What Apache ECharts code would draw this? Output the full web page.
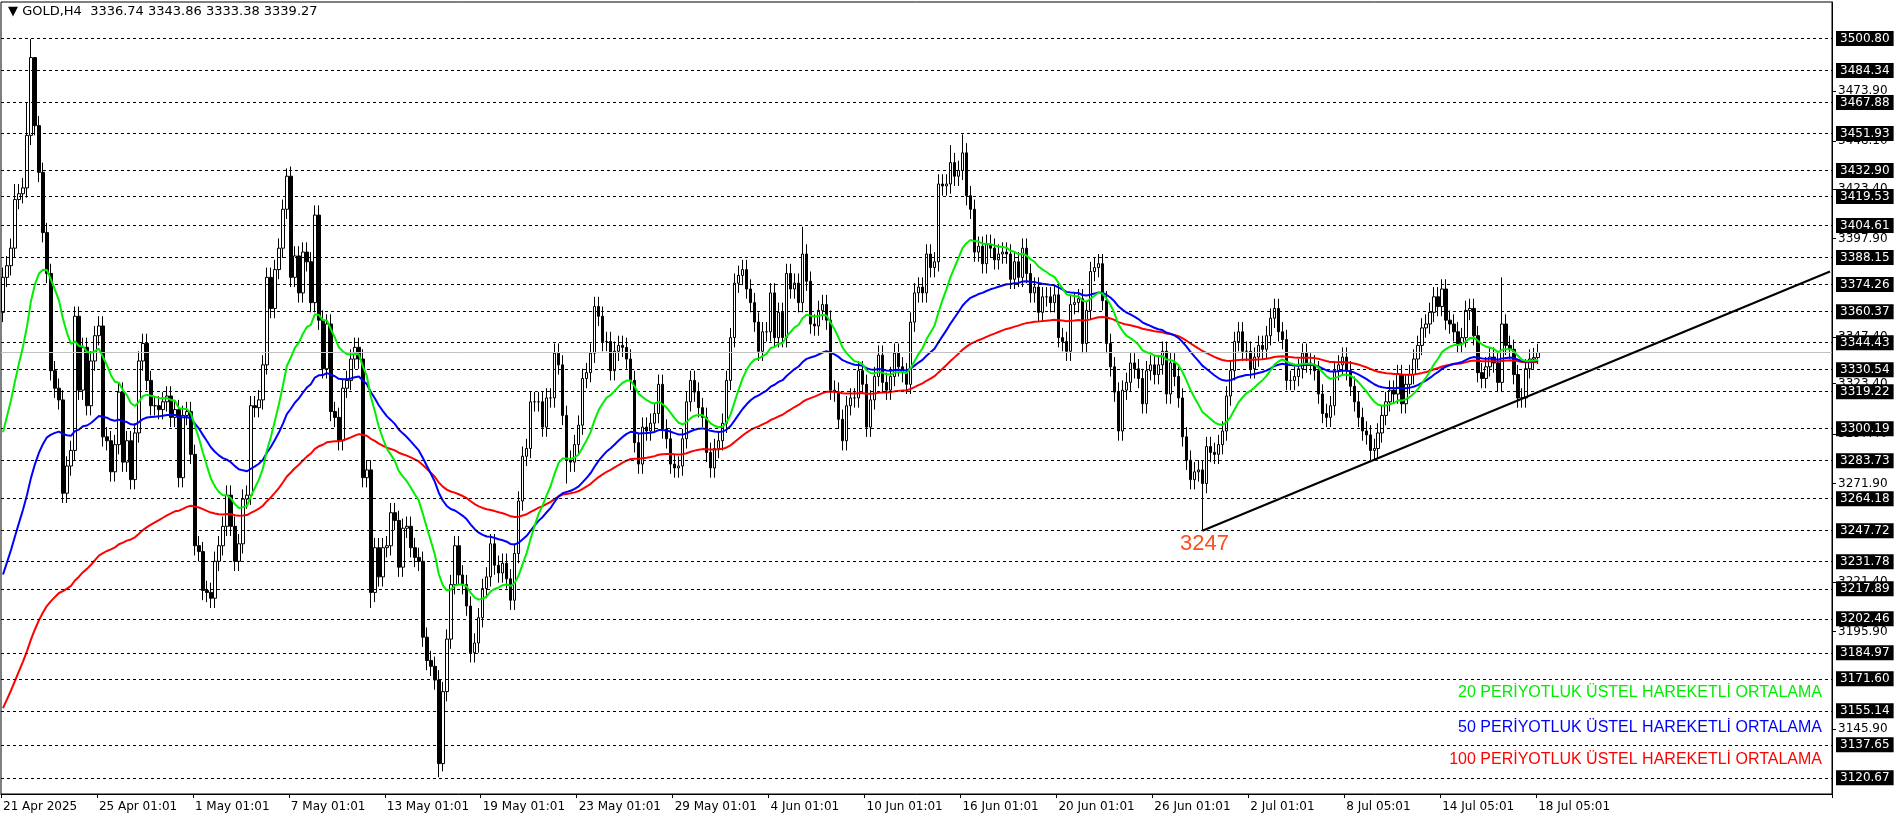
<!DOCTYPE html>
<html><head><meta charset="utf-8">
<script src="https://cdn.jsdelivr.net/npm/echarts@6/dist/echarts.min.js"></script>
<style>html,body{margin:0;padding:0;background:#fff}#c{width:1896px;height:820px}</style>
</head><body><div id="c"></div>
<script>
const closes = [3378,3384,3393,3418,3421,3424,3451,3491,3456,3432,3401,3380,3330,3321,3315,3267,3281,3289,3358,3320,
3342,3312,3335,3348,3353,3296,3294,3278,3292,3319,3283,3294,3274,3298,3335,3344,3325,3312,3312,3310,
3314,3317,3306,3310,3275,3307,3309,3287,3240,3237,3217,3216,3213,3232,3240,3250,3266,3250,3232,3241,
3264,3266,3312,3311,3315,3333,3378,3362,3382,3393,3413,3430,3378,3389,3370,3391,3386,3365,3410,3356,
3331,3354,3309,3306,3294,3321,3325,3336,3342,3336,3275,3279,3216,3239,3224,3239,3240,3257,3253,3229,
3249,3250,3239,3234,3232,3193,3181,3178,3171,3128,3165,3192,3220,3240,3225,3220,3209,3185,3190,3203,
3218,3224,3241,3230,3226,3231,3223,3212,3236,3263,3286,3290,3314,3314,3314,3301,3316,3316,3339,3333,
3307,3284,3283,3292,3302,3326,3329,3339,3363,3358,3345,3345,3330,3340,3343,3342,3336,3325,3293,3282,
3301,3299,3303,3308,3323,3300,3295,3282,3280,3281,3295,3314,3325,3319,3311,3306,3288,3280,3290,3294,
3303,3325,3347,3375,3379,3382,3372,3365,3355,3340,3350,3350,3370,3347,3360,3347,3380,3372,3375,3365,
3390,3376,3354,3353,3361,3364,3356,3320,3319,3305,3294,3312,3316,3316,3330,3323,3301,3315,3327,3338,
3324,3320,3327,3339,3332,3329,3323,3355,3370,3373,3370,3390,3383,3386,3426,3425,3426,3437,3430,3433,
3442,3420,3413,3391,3394,3385,3395,3393,3387,3390,3391,3390,3377,3386,3378,3393,3380,3370,3373,3360,
3368,3368,3365,3369,3347,3345,3340,3364,3365,3367,3344,3361,3381,3383,3385,3366,3344,3332,3319,3299,
3320,3324,3334,3331,3326,3313,3330,3333,3328,3333,3340,3318,3334,3327,3316,3296,3284,3274,3278,3279,
3272,3291,3288,3287,3292,3299,3317,3330,3345,3350,3340,3340,3331,3337,3343,3341,3348,3357,3362,3350,
3346,3325,3325,3327,3331,3339,3334,3333,3330,3318,3308,3306,3312,3330,3333,3337,3330,3322,3314,3306,
3299,3297,3289,3290,3298,3307,3314,3320,3318,3328,3313,3323,3328,3336,3343,3352,3354,3360,3368,3363,
3372,3356,3354,3350,3344,3347,3361,3362,3348,3329,3326,3332,3337,3334,3324,3354,3343,3341,3328,3316,
3316,3331,3336,3336.74,3339.27];
const firstOpen = 3360;
const lastBar = {open:3336.74, high:3343.86, low:3333.38, close:3339.27};
const highOverrides = {3:3426,6:3468,7:3500.5,8:3488,71:3434,200:3404,237:3446,240:3451.5,375:3378};
const lowOverrides = {109:3121,110:3124,300:3247.7,92:3208,141:3272};
const wick = 5;
const emaSeeds = {20:3290, 50:3219, 100:3152};
const levels = [3500.80,3484.34,3467.88,3451.93,3432.90,3419.53,3404.61,3388.15,3374.26,3360.37,3344.43,3330.54,3319.22,3300.19,3283.73,3264.18,3247.72,3231.78,3217.89,3202.46,3184.97,3171.60,3155.14,3137.65,3120.67];
const axisValues = [3473.90,3448.10,3423.40,3397.90,3347.40,3323.40,3297.40,3271.90,3221.40,3195.90,3145.90];
const dateLabels = ['21 Apr 2025','25 Apr 01:01','1 May 01:01','7 May 01:01','13 May 01:01','19 May 01:01','23 May 01:01','29 May 01:01','4 Jun 01:01','10 Jun 01:01','16 Jun 01:01','20 Jun 01:01','26 Jun 01:01','2 Jul 01:01','8 Jul 05:01','14 Jul 05:01','18 Jul 05:01'];
const barsPerLabel = 24;
const totalSlots = 458;
const trendFrom = [300, 3247.7], trendTo = [457, 3381];

const cats = []; for (let i=0;i<totalSlots;i++) cats.push(String(i));
const candles = closes.map((c,i)=>{
  let o = i===0 ? firstOpen : closes[i-1];
  if (i===closes.length-1) o = lastBar.open;
  let h = Math.max(o,c)+wick, l = Math.min(o,c)-wick;
  if (i===closes.length-1){h=lastBar.high;l=lastBar.low;}
  if (highOverrides[i]!==undefined) h=highOverrides[i];
  if (lowOverrides[i]!==undefined) l=lowOverrides[i];
  return [o,c,l,h];
});
function ema(n){let a=2/(n+1),e=emaSeeds[n];return closes.map(c=>{e=e+a*(c-e);return +e.toFixed(2);});}
const F = '"DejaVu Sans", sans-serif';
const chart = echarts.init(document.getElementById('c'));
const lvlData = levels.map(v=>({yAxis:v}));
lvlData.push({yAxis:3339.27, lineStyle:{type:'solid',color:'#c0c0c0'}, label:{show:false}});
lvlData.push([{coord:[String(trendFrom[0]),trendFrom[1]], lineStyle:{type:'solid',color:'#000',width:2}, label:{show:false}},{coord:[String(trendTo[0]),trendTo[1]]}]);
chart.setOption({
  animation:false,
  grid:{left:1,top:2,width:1831,height:792,show:true,borderColor:'#000',borderWidth:1,backgroundColor:'#fff'},
  xAxis:{type:'category',data:cats,boundaryGap:true,
    axisLine:{lineStyle:{color:'#000'}},
    axisTick:{show:true,length:4,interval:(i)=>i%barsPerLabel===0&&i<=384,lineStyle:{color:'#000'}},
    axisLabel:{interval:(i)=>i%barsPerLabel===0&&i<=384,formatter:(v,i)=>dateLabels[i/barsPerLabel]||'',
      color:'#000',fontFamily:F,fontSize:12,align:'left',margin:7},
    splitLine:{show:false}},
  yAxis:{type:'value',position:'right',min:3112.36,max:3519.57,
    axisLine:{show:true,lineStyle:{color:'#000'}},
    axisTick:{show:true,length:4,customValues:axisValues,lineStyle:{color:'#000'}},
    axisLabel:{customValues:axisValues,formatter:v=>v.toFixed(2),color:'#000',fontFamily:F,fontSize:12,margin:6},
    splitLine:{show:false}},
  series:[
    {type:'candlestick',data:candles,barWidth:3,
     itemStyle:{color:'#fff',color0:'#000',borderColor:'#000',borderColor0:'#000',borderWidth:1},
     markLine:{symbol:'none',silent:true,animation:false,
       lineStyle:{type:[3,3],color:'#000',width:1},
       label:{position:'end',formatter:p=>p.value.toFixed(2),color:'#fff',backgroundColor:'#000',
         padding:[2,4,1,4],fontFamily:F,fontSize:12,distance:4},
       data:lvlData}},
    {type:'line',data:ema(100),showSymbol:false,lineStyle:{color:'#ff0000',width:2},z:3},
    {type:'line',data:ema(50),showSymbol:false,lineStyle:{color:'#0000ff',width:2},z:4},
    {type:'line',data:ema(20),showSymbol:false,lineStyle:{color:'#00ee00',width:2},z:5}
  ],
  graphic:[
    {type:'text',left:8,top:5,style:{text:'▼ GOLD,H4  3336.74 3343.86 3333.38 3339.27',font:'13px '+F,fill:'#000'}},
    {type:'text',left:1180,top:533,style:{text:'3247',font:'22px "Liberation Sans", Arial',fill:'#ff4d1a'}},
    {type:'text',right:1896-1822,top:685,style:{text:'20 PERİYOTLUK ÜSTEL HAREKETLİ ORTALAMA',font:'16px "Liberation Sans", Arial',fill:'#00ee00',textAlign:'right'}},
    {type:'text',right:1896-1822,top:720,style:{text:'50 PERİYOTLUK ÜSTEL HAREKETLİ ORTALAMA',font:'16px "Liberation Sans", Arial',fill:'#0000ff',textAlign:'right'}},
    {type:'text',right:1896-1822,top:752,style:{text:'100 PERİYOTLUK ÜSTEL HAREKETLİ ORTALAMA',font:'16px "Liberation Sans", Arial',fill:'#ff0000',textAlign:'right'}}
  ]
});
</script></body></html>
